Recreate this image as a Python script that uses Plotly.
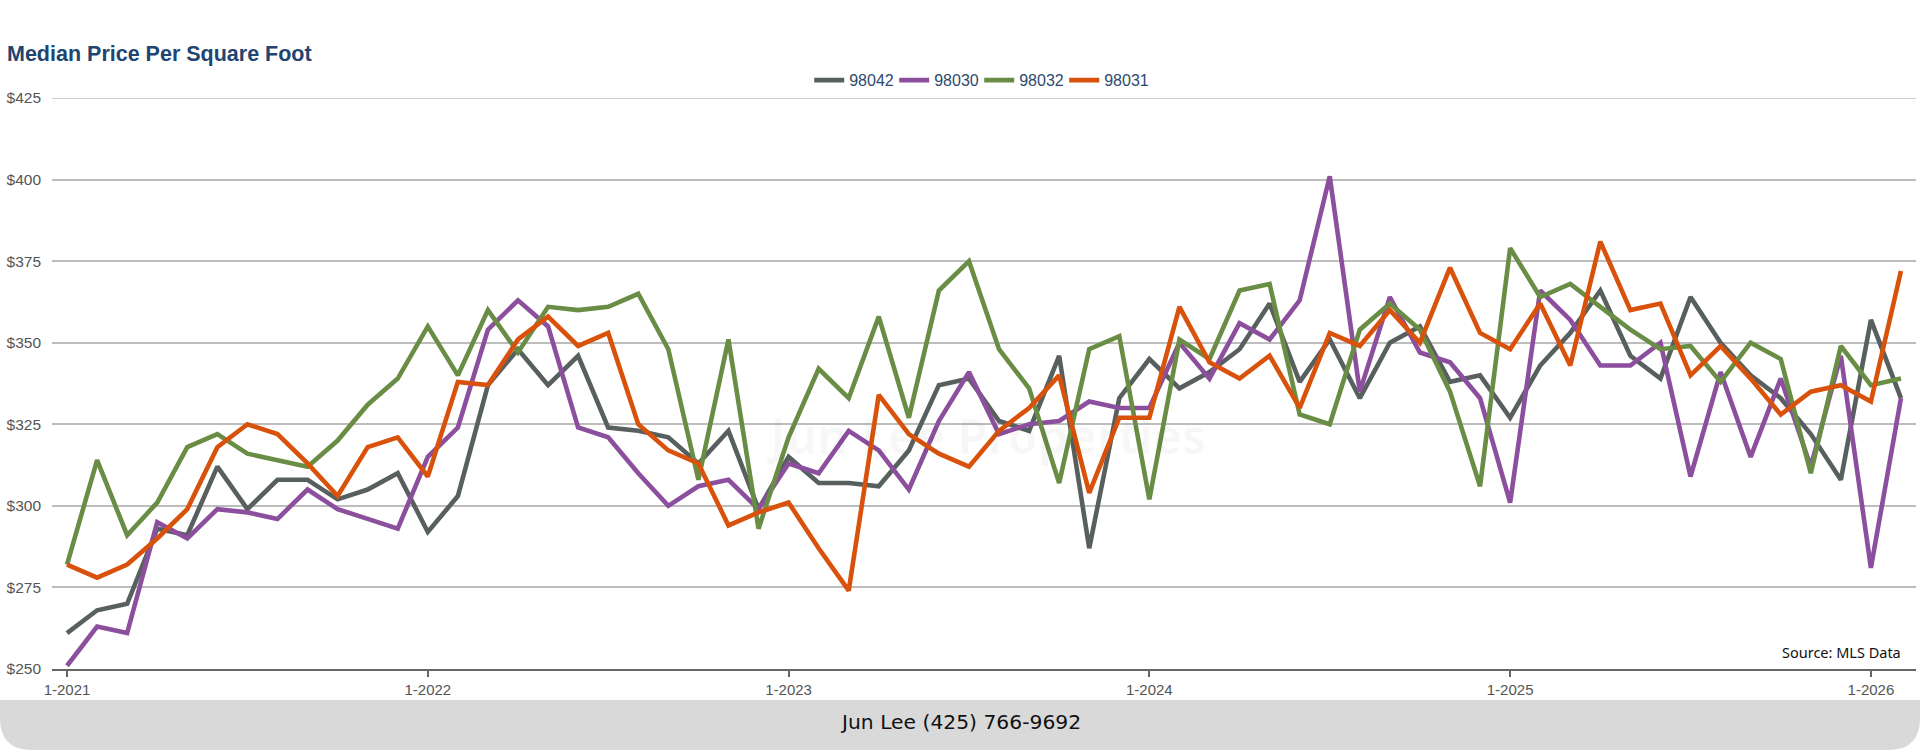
import plotly.graph_objects as go

# ---- data ----
n_months = 62
months = [f"{(i % 12) + 1}-{2021 + i // 12}" for i in range(n_months)]
tick_labels = ["1-2021", "1-2022", "1-2023", "1-2024", "1-2025", "1-2026"]

y_ticks = [250, 275, 300, 325, 350, 375, 400, 425]
y_tick_text = ["$250", "$275", "$300", "$325", "$350", "$375", "$400", "$425"]

zip_98042 = [261, 268, 270, 293, 291, 312, 299, 308, 308, 302, 305, 310,
             292, 303, 337, 348, 337, 346, 324, 323, 321, 313, 323, 299,
             315, 307, 307, 306, 317, 337, 339, 326, 323, 346, 287, 333,
             345, 336, 341, 348, 362, 338, 351, 333, 350, 355, 338, 340,
             327, 343, 353, 366, 346, 339, 364, 350, 340, 333, 322, 308,
             357, 333]
zip_98030 = [251, 263, 261, 295, 290, 299, 298, 296, 305, 299, 296, 293,
             315, 324, 354, 363, 355, 324, 321, 310, 300, 306, 308, 299,
             313, 310, 323, 317, 305, 326, 341, 322, 325, 326, 332, 330,
             330, 350, 339, 356, 351, 363, 401, 335, 364, 347, 344, 333,
             301, 366, 357, 343, 343, 350, 309, 341, 315, 339, 312, 346,
             281, 333]
zip_98032 = [282, 314, 291, 301, 318, 322, 316, 314, 312, 320, 331, 339,
             355, 340, 360, 347, 361, 360, 361, 365, 348, 308, 351, 293,
             321, 342, 333, 358, 327, 366, 375, 348, 336, 307, 348, 352,
             302, 351, 345, 366, 368, 328, 325, 354, 362, 354, 335, 306,
             379, 364, 368, 361, 354, 348, 349, 338, 350, 345, 310, 349,
             337, 339]
zip_98031 = [282, 278, 282, 290, 299, 318, 325, 322, 313, 303, 318, 321,
             309, 338, 337, 351, 358, 349, 353, 325, 317, 313, 294, 298,
             301, 287, 274, 334, 322, 316, 312, 323, 330, 340, 304, 327,
             327, 361, 344, 339, 346, 330, 353, 349, 360, 350, 373, 353,
             348, 362, 343, 381, 360, 362, 340, 349, 339, 328, 335, 337,
             332, 372]

series_names = ["98042", "98030", "98032", "98031"]
series_values = [zip_98042, zip_98030, zip_98032, zip_98031]
series_colors = ["#58605f", "#8c4f9d", "#6a8d45", "#d9520b"]

# ---- layout geometry (pixels) ----
W, H = 1920, 750
ml, mr, mt, mb = 52, 4, 98, 81
pw, ph = W - ml - mr, H - mt - mb


def px_x(p):
    return (p - ml) / pw


def px_y(p):
    return (H - mb - p) / ph


fig = go.Figure()
for name, vals, col in zip(series_names, series_values, series_colors):
    fig.add_trace(go.Scatter(
        x=months, y=vals, name=name, mode="lines",
        line=dict(color=col, width=4.6),
        hovertemplate="%{x}: $%{y}<extra>" + name + "</extra>",
    ))

# footer band with rounded bottom corners
x0, x1 = px_x(0), px_x(W)
yt, yb = px_y(700), px_y(750)
rx, ry = 32 / pw, 32 / ph
path = (f"M {x0},{yt} L {x1},{yt} L {x1},{yb + ry} Q {x1},{yb} {x1 - rx},{yb} "
        f"L {x0 + rx},{yb} Q {x0},{yb} {x0},{yb + ry} Z")

fig.update_layout(
    width=W, height=H,
    margin=dict(l=ml, r=mr, t=mt, b=mb, autoexpand=False),
    paper_bgcolor="white", plot_bgcolor="white",
    font=dict(family="Liberation Sans, Arial, sans-serif", color="#555555"),
    showlegend=True,
    legend=dict(orientation="h", x=0.51, xanchor="center", xref="container",
                y=0.893, yanchor="middle", yref="container",
                font=dict(size=16, color="#2d4a6e"),
                itemwidth=30, entrywidth=40, entrywidthmode="pixels",
                tracegroupgap=0, bgcolor="rgba(0,0,0,0)"),
    xaxis=dict(type="category", range=[-0.5, n_months - 0.5],
               tickmode="array", tickvals=tick_labels, ticktext=tick_labels,
               showgrid=False, showline=True, linecolor="#666666", linewidth=2,
               ticks="outside", ticklen=6, tickwidth=2, tickcolor="#666666",
               tickfont=dict(size=15, color="#555555"), zeroline=False),
    yaxis=dict(range=[250, 425], tickmode="array", tickvals=y_ticks,
               ticktext=y_tick_text, showgrid=True, gridcolor="#bdbdbd",
               gridwidth=1.5, zeroline=False, showline=False,
               tickfont=dict(size=15.5, color="#555555"), ticklabelstandoff=10),
    shapes=[
        dict(type="path", path=path, xref="paper", yref="paper",
             fillcolor="#d9d9d9", line=dict(width=0), layer="below"),
        # top gridline at the range edge (plotly clips gridlines at the edge)
        dict(type="line", xref="paper", yref="y", x0=0, x1=1,
             y0=y_ticks[-1], y1=y_ticks[-1],
             line=dict(color="#bdbdbd", width=1.5), layer="below"),
    ],
    annotations=[
        dict(text="<b>Median Price Per Square Foot</b>", xref="paper", yref="paper",
             x=px_x(5), y=px_y(54), xanchor="left", yanchor="middle",
             showarrow=False, font=dict(size=21.5, color="#214470",
                                        family="Liberation Sans, Arial, sans-serif")),
        dict(text="<b>Jun Lee Properties</b>", xref="paper", yref="paper",
             x=px_x(986), y=px_y(435), xanchor="center", yanchor="middle",
             showarrow=False, font=dict(size=48, color="rgba(0,0,0,0.03)",
                                        family="Noto Sans, sans-serif")),
        dict(text="Source: MLS Data", xref="paper", yref="paper",
             x=px_x(1903), y=px_y(652), xanchor="right", yanchor="middle",
             showarrow=False, font=dict(size=14.5, color="#111111",
                                        family="Noto Sans, sans-serif")),
        dict(text="Jun Lee (425) 766-9692", xref="paper", yref="paper",
             x=px_x(960), y=px_y(722), xanchor="center", yanchor="middle",
             showarrow=False, font=dict(size=20.3, color="#111111",
                                        family="DejaVu Sans, sans-serif")),
    ],
)

fig.write_html("out.html", config={"displayModeBar": False},
               post_script="document.body.style.margin='0';")
